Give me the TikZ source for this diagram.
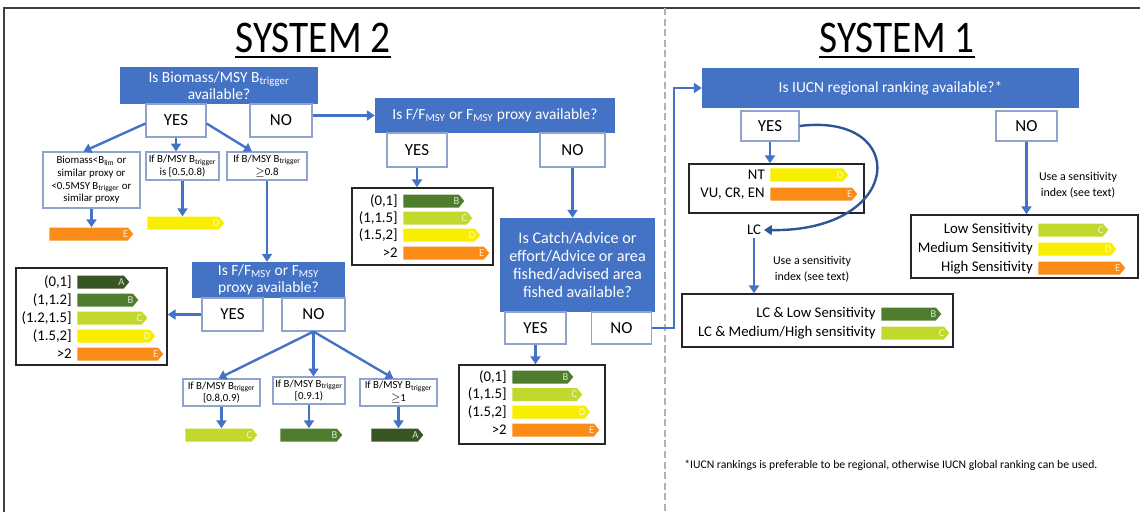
\documentclass[tikz,border=0pt]{standalone}
\usepackage{graphicx}
\usepackage{fontspec}
\setmainfont{Carlito}
\usetikzlibrary{arrows.meta,calc,shapes.symbols}

\definecolor{qblue}{HTML}{4472C4}
\definecolor{ansline}{HTML}{8EA4CF}
\definecolor{curveblue}{HTML}{2F5597}
\definecolor{gradeA}{HTML}{375623}
\definecolor{gradeB}{HTML}{4E7D2E}
\definecolor{gradeC}{HTML}{C2D82C}
\definecolor{gradeD}{HTML}{F9EE00}
\definecolor{gradeE}{HTML}{F98B16}

\newcommand\px{0.025cm}

\tikzset{
  wh/.style 2 args={minimum width=#1*\px, minimum height=#2*\px},
  qbox/.style={fill=qblue, text=white, align=center, inner sep=0pt, font=\fontsize{11}{12.5}\selectfont},
  ansbox/.style={draw=ansline, line width=0.8pt, fill=white, inner sep=0pt, font=\fontsize{12}{14}\selectfont},
  condbox/.style={draw=ansline, line width=0.8pt, fill=white, align=center, inner sep=0pt, font=\fontsize{7.7}{9}\selectfont},
  ebox/.style={draw=black!85, line width=1.1pt, inner sep=0pt},
  elabel/.style={font=\fontsize{10.5}{12}\selectfont, inner sep=0pt, anchor=east},
  gradebar/.style={signal, signal to=east, signal pointer angle=100, inner sep=0pt, minimum height=13*\px},
  arr/.style={draw=qblue, line width=1.7pt, -{Triangle[width=7pt,length=5.5pt]}},
  note/.style={font=\fontsize{8.5}{11}\selectfont, align=center, inner sep=0pt},
}

% name, left point, length, colour, letter
\newcommand\gradeBar[5]{%
  \node[gradebar, fill=#4, minimum width=#3*\px, anchor=west,
        label={[anchor=east, xshift=-5*\px, text=white, opacity=0.8, inner sep=0pt,
                font=\fontsize{7.5}{8}\selectfont]east:#5}] (#1) at (#2) {};}
% name, label right x, y, label, length, colour, letter
\newcommand\gradeRow[7]{%
  \node[elabel] (#1l) at (#2,#3) {#4};
  \gradeBar{#1}{{#2+5},#3}{#5}{#6}{#7}}

\begin{document}
\begin{tikzpicture}[x=0.025cm, y=-0.025cm]
\useasboundingbox (0,0) rectangle (1140,512);

% frame and divider
\draw[black!75, line width=1.2pt] (1140,8) -- (4,8) -- (4,512);
\draw[black!30, line width=1.4pt, dash pattern=on 5pt off 2.5pt] (665,8) -- (665,512);

% titles
\node[inner sep=0pt, font=\fontsize{28}{30}\selectfont] (sys2) at (313,38) {\scalebox{1}[1.15]{SYSTEM 2}};
\draw[line width=1.6pt] ($(sys2.south west)+(0,4)$) -- ($(sys2.south east)+(0,4)$);
\node[inner sep=0pt, font=\fontsize{28}{30}\selectfont] (sys1) at (897,38) {\scalebox{1}[1.15]{SYSTEM 1}};
\draw[line width=1.6pt] ($(sys1.south west)+(0,4)$) -- ($(sys1.south east)+(0,4)$);

% System 2: biomass question
\node[qbox, wh={198}{37}] (qbio) at (219,85.5) {Is Biomass/MSY B\textsubscript{trigger}\\available?};
\node[ansbox, wh={60}{33}] (yes1) at (176,120.5) {YES};
\node[ansbox, wh={62}{33}] (no1) at (281,120.5) {NO};

\node[condbox, wh={97}{56}] (cbio) at (91.5,180) {Biomass<B\textsubscript{lim} or\\similar proxy or\\<0.5MSY B\textsubscript{trigger} or\\similar proxy};
\node[condbox, wh={73}{28}] (cmid) at (182.5,166) {If B/MSY B\textsubscript{trigger}\\is [0.5,0.8)};
\node[condbox, wh={80}{28}] (chigh) at (267,166) {If B/MSY B\textsubscript{trigger}\\$\geq$0.8};
\draw[arr] ($(yes1.west)+(0,3)$) -- ($(cbio.north)+(-8,0)$);
\draw[arr] (yes1.south) -- (yes1.south |- cmid.north);
\draw[arr] ($(yes1.east)+(0,3)$) -- ($(chigh.north)+(-15,0)$);

\gradeBar{barE}{49,234}{84}{gradeE}{E}
\gradeBar{barD}{147,223}{77}{gradeD}{D}
\draw[arr] (cbio.south) -- (cbio.south |- barE.north);
\draw[arr] (cmid.south) -- (cmid.south |- barD.north);

% System 2: F/FMSY after biomass
\node[qbox, wh={153}{36}] (qf2) at (268.5,280) {Is F/F\textsubscript{MSY} or F\textsubscript{MSY}\\proxy available?};
\draw[arr] (chigh.south) -- (chigh.south |- qf2.north);
\node[ansbox, wh={61}{33}] (yes2) at (232.5,314.5) {YES};
\node[ansbox, wh={63}{33}] (no2) at (313.5,314.5) {NO};

\node[ebox, wh={151}{97}] (fsA) at (91.5,316.5) {};
\draw[arr] (yes2.west) -- (yes2.west -| fsA.east);
\gradeRow{a1}{72}{282}{(0,1]}{52}{gradeA}{A}
\gradeRow{a2}{72}{300}{(1,1.2]}{61}{gradeB}{B}
\gradeRow{a3}{72}{318}{(1.2,1.5]}{70}{gradeC}{C}
\gradeRow{a4}{72}{336}{(1.5,2]}{78}{gradeD}{D}
\gradeRow{a5}{72}{354}{>2}{86}{gradeE}{E}

\node[condbox, wh={77}{27}] (c1) at (221.5,392.5) {If B/MSY B\textsubscript{trigger}\\{[}0.8,0.9)};
\node[condbox, wh={72}{27}] (c2) at (309,390.5) {If B/MSY B\textsubscript{trigger}\\{[}0.9.1)};
\node[condbox, wh={77}{27}] (c3) at (398.5,392.5) {If B/MSY B\textsubscript{trigger}\\$\geq$1};
\draw[arr] (no2.south) -- ($(c1.north)+(-3,0)$);
\draw[arr] (no2.south) -- (no2.south |- c2.north);
\draw[arr] (no2.south) -- ($(c3.north)+(-5,0)$);

\gradeBar{barC2}{185,435}{72}{gradeC}{C}
\gradeBar{barB2}{280,435}{62}{gradeB}{B}
\gradeBar{barA2}{371,435}{52}{gradeA}{A}
\draw[arr] (c1.south) -- (c1.south |- barC2.north);
\draw[arr] (c2.south) -- (c2.south |- barB2.north);
\draw[arr] (c3.south) -- (c3.south |- barA2.north);

% System 2: F/FMSY without biomass
\node[qbox, wh={240}{35}] (qf1) at (495,115.5) {Is F/F\textsubscript{MSY} or F\textsubscript{MSY} proxy available?};
\draw[arr] (no1.east |- qf1.west) -- (qf1.west);
\node[ansbox, wh={60}{34}] (yes3) at (417,150) {YES};
\node[ansbox, wh={65}{34}] (no3) at (572.5,150) {NO};

\node[ebox, wh={141}{77}] (fsB) at (422.5,226.5) {};
\draw[arr] (yes3.south) -- (yes3.south |- fsB.north);
\gradeRow{b1}{398}{201}{(0,1]}{61}{gradeB}{B}
\gradeRow{b2}{398}{218}{(1,1.5]}{69}{gradeC}{C}
\gradeRow{b3}{398}{235}{(1.5,2]}{77}{gradeD}{D}
\gradeRow{b4}{398}{253}{>2}{86}{gradeE}{E}

% System 2: catch / effort / area
\node[qbox, wh={155}{94}, font=\fontsize{11.5}{12.6}\selectfont] (qcatch) at (577.5,265) {Is Catch/Advice or\\effort/Advice or area\\fished/advised area\\fished available?};
\draw[arr] (no3.south) -- (no3.south |- qcatch.north);
\node[ansbox, wh={61}{32}] (yes4) at (535.5,328) {YES};
\node[ansbox, wh={60}{32}] (no4) at (621.5,328) {NO};

\node[ebox, wh={146}{79}] (fsC) at (532,404.5) {};
\draw[arr] (yes4.south) -- (yes4.south |- fsC.north);
\gradeRow{k1}{507}{377}{(0,1]}{61}{gradeB}{B}
\gradeRow{k2}{507}{394.5}{(1,1.5]}{70}{gradeC}{C}
\gradeRow{k3}{507}{412}{(1.5,2]}{78}{gradeD}{D}
\gradeRow{k4}{507}{430}{>2}{87}{gradeE}{E}

% System 1
\node[qbox, wh={377}{40}] (qiucn) at (890.5,88) {Is IUCN regional ranking available?*};
\draw[arr] (no4.east) -- ++(22,0) |- (qiucn.west);
\node[ansbox, wh={58}{30}] (yes5) at (770,126) {YES};
\node[ansbox, wh={61}{30}] (no5) at (1026.5,126) {NO};

\node[ebox, wh={175}{49}] (fsD) at (776.5,188.5) {};
\draw[arr] (yes5.south) -- (yes5.south |- fsD.north);
\gradeRow{d1}{765}{175}{NT}{78}{gradeD}{D}
\gradeRow{d2}{765}{194}{VU, CR, EN}{87}{gradeE}{E}

\node[font=\fontsize{10.5}{12}\selectfont, inner sep=2pt] (lc) at (754,230) {LC};
\draw[curveblue, line width=1.7pt, -{Triangle[width=7pt,length=5.5pt]}] (yes5.east) .. controls (910,112) and (905,232) .. (lc.east);

\node[ebox, wh={271}{53}] (fsE) at (817.5,320.5) {};
\draw[arr] (lc.south) -- (lc.south |- fsE.north);
\node[note] (useL) at (812,269) {Use a sensitivity\\index (see text)};
\gradeRow{e1}{876}{314}{LC \& Low Sensitivity}{60}{gradeB}{B}
\gradeRow{e2}{876}{333}{LC \& Medium/High sensitivity}{68}{gradeC}{C}

\node[ebox, wh={227}{63}] (fsF) at (1024.5,246.5) {};
\draw[arr] (no5.south) -- (no5.south |- fsF.north);
\node[note] (useR) at (1078,185) {Use a sensitivity\\index (see text)};
\gradeRow{f1}{1033}{230}{Low Sensitivity}{70}{gradeC}{C}
\gradeRow{f2}{1033}{249}{Medium Sensitivity}{78}{gradeD}{D}
\gradeRow{f3}{1033}{268}{High Sensitivity}{87}{gradeE}{E}

% footnote
\node[anchor=west, inner sep=0pt, font=\fontsize{8.3}{9}\selectfont] (foot) at (684,465) {*IUCN rankings is preferable to be regional, otherwise IUCN global ranking can be used.};
\end{tikzpicture}
\end{document}
